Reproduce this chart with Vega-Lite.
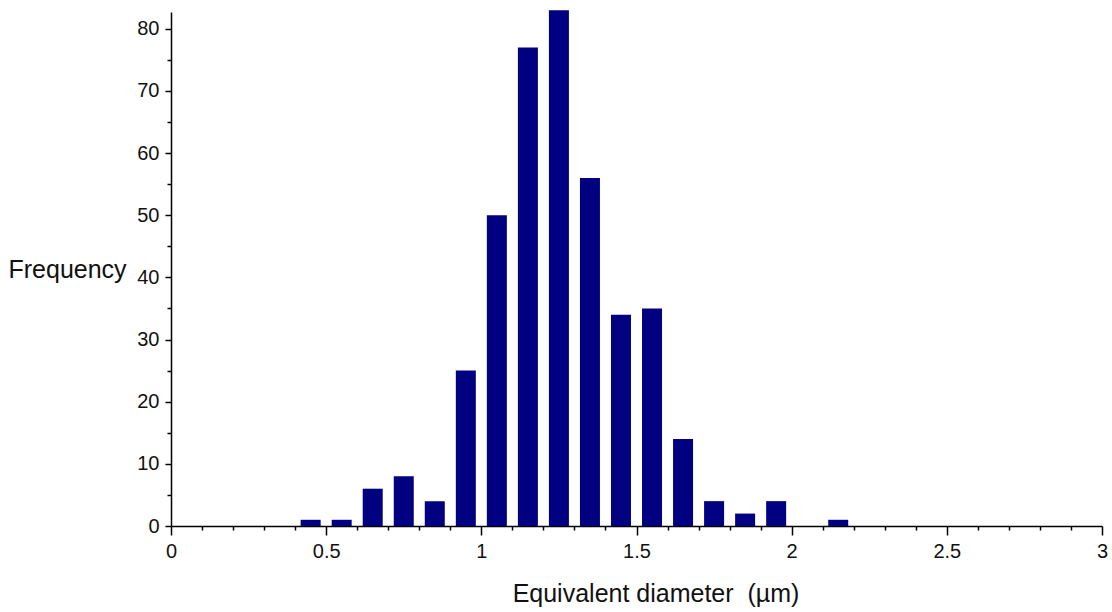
{
  "$schema": "https://vega.github.io/schema/vega-lite/v6.json",
  "autosize": "none",
  "width": 931,
  "height": 514,
  "padding": {"left": 171, "top": 12, "right": 10, "bottom": 86},
  "background": "white",
  "config": {"view": {"stroke": null}},
  "data": {
    "values": [
      {"diameter": 0.45, "frequency": 1},
      {"diameter": 0.55, "frequency": 1},
      {"diameter": 0.65, "frequency": 6},
      {"diameter": 0.75, "frequency": 8},
      {"diameter": 0.85, "frequency": 4},
      {"diameter": 0.95, "frequency": 25},
      {"diameter": 1.05, "frequency": 50},
      {"diameter": 1.15, "frequency": 77},
      {"diameter": 1.25, "frequency": 83},
      {"diameter": 1.35, "frequency": 56},
      {"diameter": 1.45, "frequency": 34},
      {"diameter": 1.55, "frequency": 35},
      {"diameter": 1.65, "frequency": 14},
      {"diameter": 1.75, "frequency": 4},
      {"diameter": 1.85, "frequency": 2},
      {"diameter": 1.95, "frequency": 4},
      {"diameter": 2.05, "frequency": 0},
      {"diameter": 2.15, "frequency": 1}
    ]
  },
  "mark": {"type": "bar", "color": "#000080", "size": 20, "clip": false},
  "encoding": {
    "x": {
      "field": "diameter",
      "type": "quantitative",
      "scale": {"domain": [0, 3], "nice": false, "zero": false, "padding": 0},
      "axis": {
        "title": "Equivalent diameter \u00a0(\u00b5m)",
        "titleFont": "Liberation Sans",
        "titleFontSize": 25,
        "titleFontWeight": "normal",
        "titleColor": "#111",
        "titleAlign": "center",
        "titleBaseline": "alphabetic",
        "titleX": 484.5,
        "titleY": 75,
        "values": [0, 0.1, 0.2, 0.3, 0.4, 0.5, 0.6, 0.7, 0.8, 0.9, 1, 1.1, 1.2, 1.3, 1.4, 1.5, 1.6, 1.7, 1.8, 1.9, 2, 2.1, 2.2, 2.3, 2.4, 2.5, 2.6, 2.7, 2.8, 2.9, 3],
        "labelExpr": "abs(datum.value*2 - round(datum.value*2)) < 1e-6 ? format(datum.value, '~g') : ''",
        "labelFont": "Liberation Sans",
        "labelFontSize": 20,
        "labelColor": "#111",
        "labelPadding": 6,
        "labelOverlap": false,
        "labelFlush": false,
        "labelBaseline": "top",
        "grid": false,
        "domainColor": "#000",
        "domainWidth": 1.5,
        "tickColor": "#000",
        "tickWidth": 1.5,
        "tickSize": {"condition": {"test": "abs(datum.value*2 - round(datum.value*2)) < 1e-6", "value": 9}, "value": 4}
      }
    },
    "y": {
      "field": "frequency",
      "type": "quantitative",
      "scale": {"domain": [0, 82.7], "nice": false},
      "axis": {
        "title": "Frequency",
        "titleFont": "Liberation Sans",
        "titleFontSize": 25,
        "titleFontWeight": "normal",
        "titleColor": "#111",
        "titleAngle": 0,
        "titleAlign": "left",
        "titleBaseline": "alphabetic",
        "titleX": -163,
        "titleY": 265,
        "values": [0, 5, 10, 15, 20, 25, 30, 35, 40, 45, 50, 55, 60, 65, 70, 75, 80],
        "labelExpr": "datum.value % 10 == 0 ? datum.label : ''",
        "labelFont": "Liberation Sans",
        "labelFontSize": 20,
        "labelColor": "#111",
        "labelPadding": 6,
        "labelOverlap": false,
        "labelFlush": false,
        "grid": false,
        "domainColor": "#000",
        "domainWidth": 1.5,
        "tickColor": "#000",
        "tickWidth": 1.5,
        "tickSize": {"condition": {"test": "datum.value % 10 == 0", "value": 6}, "value": 4}
      }
    }
  }
}
